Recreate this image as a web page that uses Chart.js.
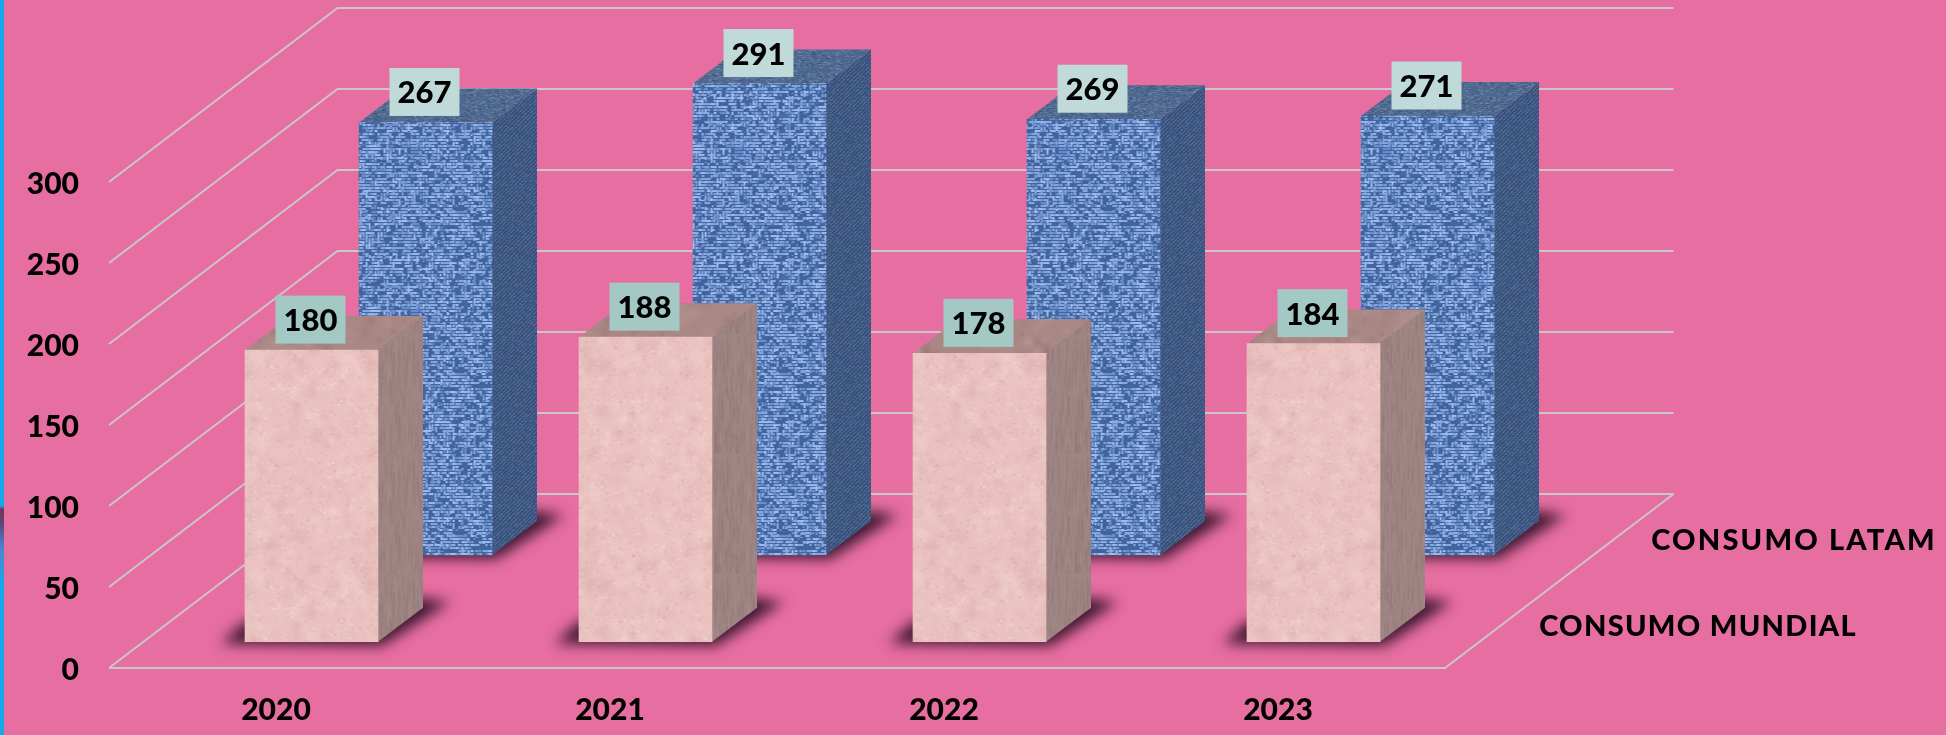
<!DOCTYPE html>
<html><head><meta charset="utf-8">
<style>
html,body{margin:0;padding:0;background:#E76EA0;overflow:hidden}
#wrap{position:relative;width:1946px;height:735px}
#strip{position:absolute;left:0;top:0;width:4px;height:735px;background:linear-gradient(to bottom,#14A8E8 0,#14A8E8 506px,#7a3358 509px,#5a4a7c 525px,#4a86cf 548px,#2f9adf 570px,#14A8E8 585px,#14A8E8 735px)}
canvas{display:block}
</style>
<script src="https://cdn.jsdelivr.net/npm/chart.js@4"></script>
</head><body><div id="wrap"><canvas id="c" width="1946" height="735"></canvas><div id="strip"></div></div>
<script>
const categories = ['2020','2021','2022','2023'];
const seriesNames = ['CONSUMO MUNDIAL','CONSUMO LATAM'];
const consumoMundial = [180,188,178,184];
const consumoLatam = [267,291,269,271];
const yTicks = [0,50,100,150,200,250,300];

const FONT = 'Lato, "Open Sans", sans-serif';
const WEIGHT = '900';
// texture helpers (deterministic, only decoration)
let seed = 12345;
function rnd(){ seed = (seed*1664525+1013904223)>>>0; return seed/4294967296; }
function tex(w,h,base,paint){
  const c=document.createElement('canvas');c.width=w;c.height=h;
  const g=c.getContext('2d');g.fillStyle=base;g.fillRect(0,0,w,h);paint(g,w,h);
  return g.createPattern(c,'repeat');
}
function blots(g,w,h,n,colors,rMax){
  for(let i=0;i<n;i++){
    const x=rnd()*w,y=rnd()*h,r=2+rnd()*rMax,col=colors[Math.floor(rnd()*colors.length)];
    for(const ox of [-w,0,w])for(const oy of [-h,0,h]){
      const gr=g.createRadialGradient(x+ox,y+oy,0,x+ox,y+oy,r);
      gr.addColorStop(0,col);gr.addColorStop(1,col.replace(/[\d.]+\)$/,'0)'));
      g.fillStyle=gr;g.fillRect(x+ox-r,y+oy-r,2*r,2*r);
    }
  }
}
function weave(g,w,h,cols){
  // woven look: short strokes snapped to a small grid, with dark gaps left between them
  for(let i=0;i<5200;i++){
    const x=Math.floor(rnd()*w/3)*3,y=Math.floor(rnd()*h/3)*3,r=rnd();
    g.fillStyle=r<.36?cols[0]:r<.58?cols[1]:r<.84?cols[2]:cols[3];
    if(rnd()<.68) g.fillRect(x,y,2+Math.floor(rnd()*5),2);
    else g.fillRect(x,y,2,2+Math.floor(rnd()*4));
  }
  blots(g,w,h,40,['rgba(40,70,130,0.12)','rgba(170,200,245,0.10)'],8);
}
function diag(g,w,h,dark,light){
  for(let y=0;y<h;y++)for(let x=0;x<w;x++){
    const k=(x+y)%4,r=rnd();
    if(k===0&&r<.8){g.fillStyle=dark;g.fillRect(x,y,1,1);}
    else if(k===2&&r<.5){g.fillStyle=light;g.fillRect(x,y,1,1);}
  }
}
const blueFront = tex(162,162,'#44669F',(g,w,h)=>weave(g,w,h,['#86A7DE','#9DBBEC','#688DCA','#3F619C']));
const blueSide  = tex(120,120,'#425C88',(g,w,h)=>diag(g,w,h,'#2E4468','#5C76A0'));
const blueTop   = tex(120,120,'#50698F',(g,w,h)=>{
  for(let i=0;i<3600;i++){g.fillStyle=['#3E577F','#61799F','#456088','#6B83A8'][Math.floor(rnd()*4)];
    g.fillRect(Math.floor(rnd()*w),Math.floor(rnd()*h),1+Math.floor(rnd()*3),1);}
});
const pinkFront = tex(220,220,'#EAC3C0',(g,w,h)=>{
  blots(g,w,h,560,['rgba(244,214,210,0.34)','rgba(214,166,166,0.26)','rgba(226,182,180,0.28)'],9);
  for(let i=0;i<1800;i++){g.fillStyle=rnd()<.5?'rgba(205,150,150,0.25)':'rgba(250,228,224,0.3)';
    g.fillRect(Math.floor(rnd()*w),Math.floor(rnd()*h),1+Math.floor(rnd()*3),1+Math.floor(rnd()*2));}
});
const pinkSide  = tex(120,120,'#9E8482',(g,w,h)=>{
  for(let i=0;i<700;i++){g.fillStyle=rnd()<.5?'rgba(125,98,100,0.2)':'rgba(176,150,146,0.2)';
    g.fillRect(Math.floor(rnd()*w),Math.floor(rnd()*h),1,6+Math.floor(rnd()*22));}
});
const pinkTop   = tex(120,120,'#A98785',(g,w,h)=>blots(g,w,h,120,['rgba(190,155,150,0.3)','rgba(140,105,105,0.25)'],8));

// series placement in depth, and the look of each series
const WALL_DX = 228.5, WALL_DY = 174;
const looks = [
  {dx:35.5, dy:26.3, side:pinkSide, top:pinkTop, box:'#A4C9C4'},
  {dx:149.5, dy:113, side:blueSide, top:blueTop, box:'#BFDAD9'}
];
const BAR_DX = 45, BAR_DY = 34;

const scene = {
  id:'scene',
  beforeDatasetsDraw(chart){
    const {ctx,chartArea:a,scales:{y}}=chart;
    ctx.save();
    ctx.strokeStyle='#CBC6C9';ctx.lineWidth=2;ctx.lineJoin='miter';
    yTicks.forEach(v=>{
      const p=Math.round(y.getPixelForValue(v));
      ctx.beginPath();ctx.moveTo(a.left,p);ctx.lineTo(a.left+WALL_DX,p-WALL_DY);ctx.lineTo(a.right+WALL_DX,p-WALL_DY);ctx.stroke();
    });
    const p0=Math.round(y.getPixelForValue(0));
    ctx.beginPath();ctx.moveTo(a.left,p0);ctx.lineTo(a.right,p0);ctx.lineTo(a.right+WALL_DX,p0-WALL_DY);ctx.stroke();
    ctx.font=WEIGHT+' 29px '+FONT;ctx.fillStyle='#000';ctx.textAlign='center';ctx.textBaseline='middle';
    ctx.letterSpacing='2.2px';
    ctx.fillText(seriesNames[1],a.right+349,541);
    ctx.letterSpacing='1.3px';
    ctx.fillText(seriesNames[0],a.right+253,627);
    ctx.restore();
  },
  beforeDatasetDraw(chart,args){
    const {ctx}=chart, look=looks[args.index], meta=args.meta;
    ctx.save();
    ctx.translate(look.dx,-look.dy);
    meta.data.forEach(b=>{
      const L=b.x-b.width/2,R=b.x+b.width/2,T=b.y,B=b.base;
      ctx.save();ctx.filter='blur(7px)';ctx.fillStyle='rgba(52,18,42,0.95)';
      ctx.beginPath();ctx.moveTo(L-24,B+2);ctx.lineTo(R+4,B+4);ctx.lineTo(R+72,B-40);ctx.lineTo(R+38,B-44);ctx.lineTo(L,B-20);ctx.closePath();ctx.fill();
      ctx.restore();
      ctx.fillStyle=look.side;
      ctx.beginPath();ctx.moveTo(R,T);ctx.lineTo(R+BAR_DX,T-BAR_DY);ctx.lineTo(R+BAR_DX,B-BAR_DY);ctx.lineTo(R,B);ctx.closePath();ctx.fill();
      ctx.fillStyle=look.top;
      ctx.beginPath();ctx.moveTo(L,T);ctx.lineTo(L+BAR_DX,T-BAR_DY);ctx.lineTo(R+BAR_DX,T-BAR_DY);ctx.lineTo(R,T);ctx.closePath();ctx.fill();
    });
  },
  afterDatasetDraw(chart,args){
    const {ctx}=chart, look=looks[args.index], meta=args.meta, ds=chart.data.datasets[args.index];
    meta.data.forEach((b,i)=>{
      ctx.fillStyle=look.box;
      ctx.fillRect(b.x-36,b.y-54.5,70,48);
      ctx.fillStyle='#000';ctx.font=WEIGHT+' 31px '+FONT;ctx.textAlign='center';ctx.textBaseline='middle';
      ctx.fillText(String(ds.data[i]),b.x-1,b.y-29);
    });
    ctx.restore();
  }
};

new Chart(document.getElementById('c').getContext('2d'),{
  type:'bar',
  data:{labels:categories,datasets:[
    {label:seriesNames[0],data:consumoMundial,backgroundColor:pinkFront,borderWidth:0,barThickness:133,clip:false},
    {label:seriesNames[1],data:consumoLatam,backgroundColor:blueFront,borderWidth:0,barThickness:133,clip:false}
  ]},
  plugins:[scene],
  options:{
    responsive:false,animation:false,
    layout:{padding:{top:182,right:501,bottom:0,left:0}},
    plugins:{legend:{display:false},tooltip:{enabled:false},title:{display:false}},
    datasets:{bar:{grouped:false}},
    scales:{
      x:{
        grid:{display:false,drawTicks:false},border:{display:false},
        ticks:{color:'#000',font:{family:FONT,weight:WEIGHT,size:30},padding:24,maxRotation:0},
        afterFit(s){s.height=67;}
      },
      y:{
        min:0,max:300,
        grid:{display:false,drawTicks:false},border:{display:false},
        ticks:{color:'#000',font:{family:FONT,weight:WEIGHT,size:30},padding:30,stepSize:50,labelOffset:2},
        afterFit(s){s.width=109;}
      }
    }
  }
});
</script></body></html>
